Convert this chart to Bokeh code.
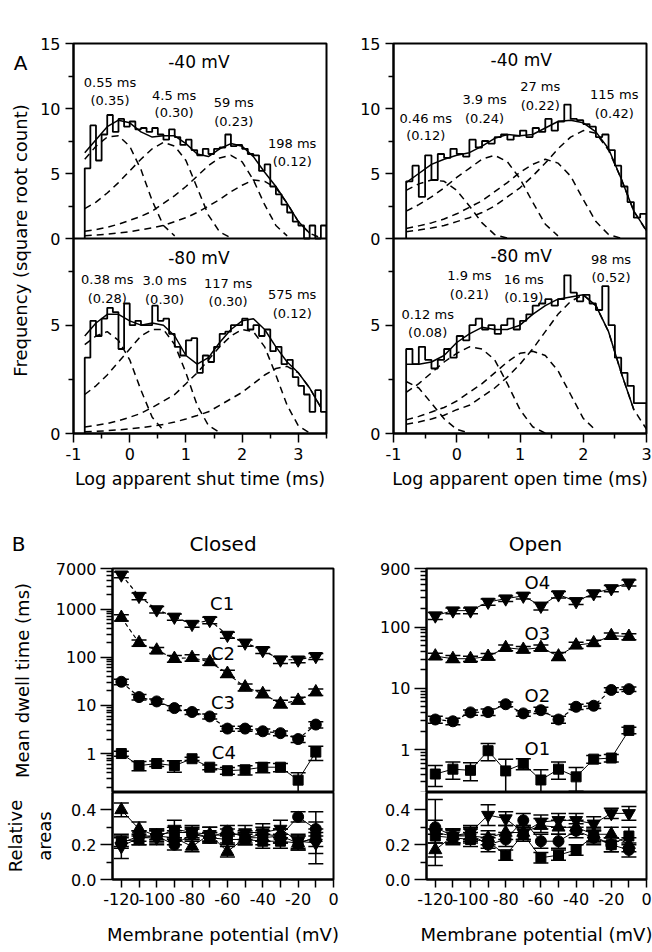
import math
from bokeh.plotting import figure
from bokeh.layouts import row, column
from bokeh.models import (Range1d, FixedTicker, NumeralTickFormatter, Label, Whisker,
                          TeeHead, ColumnDataSource, Span)
from bokeh.core.properties import value
from bokeh.embed import file_html
from bokeh.resources import INLINE

FONT = "DejaVu Sans"

# ---------------- Panel A data (square-root counts, log10 time bins) ----------------
BIN_W = 0.1
HIST_START = -0.8

shut40_hist = [5.4, 8.7, 6.0, 8.0, 9.5, 8.2, 9.2, 8.6, 9.0, 8.4,
               8.5, 8.2, 8.5, 8.0, 7.6, 8.4, 7.8, 7.2, 7.6, 6.8,
               6.4, 6.9, 6.5, 6.9, 7.0, 8.0, 7.1, 7.2, 6.9, 6.5,
               6.4, 5.2, 5.7, 4.0, 3.4, 2.6, 2.0, 1.3, 1.0, 0.0,
               1.0, 0.0, 1.0]
open40_hist = [4.4, 5.6, 3.2, 6.4, 4.5, 6.5, 6.2, 6.9, 6.5, 6.3,
               7.6, 7.0, 7.5, 7.3, 7.8, 8.0, 7.6, 7.9, 8.3, 7.8,
               8.5, 8.2, 9.2, 8.3, 9.0, 10.3, 9.2, 9.1, 8.8, 8.6,
               7.8, 8.0, 6.8, 5.6, 4.0, 2.8, 1.6, 1.9]
shut80_hist = [3.5, 5.2, 4.5, 5.3, 5.8, 5.6, 3.9, 6.0, 5.0, 5.2,
               5.0, 5.0, 5.9, 5.2, 5.3, 4.6, 4.0, 3.6, 4.3, 4.4,
               2.8, 3.6, 3.3, 4.0, 4.6, 4.7, 5.0, 5.0, 5.3, 4.8,
               5.0, 4.5, 4.8, 3.8, 4.0, 3.2, 3.4, 2.6, 2.2, 1.8,
               1.0, 2.0, 1.0]
open80_hist = [3.9, 3.2, 4.0, 3.4, 3.0, 3.4, 3.9, 3.5, 4.5, 4.3,
               5.0, 5.3, 4.8, 5.0, 4.6, 5.0, 5.3, 4.8, 5.2, 5.5,
               5.9, 6.0, 6.2, 5.9, 6.2, 7.3, 6.5, 6.1, 6.4, 6.0,
               5.7, 6.8, 5.0, 3.5, 2.8, 2.2, 1.4, 1.4]

grid_shut = [-0.8, -0.6, -0.4, -0.2, 0.0, 0.2, 0.4, 0.6, 0.8, 1.0, 1.2,
             1.4, 1.6, 1.8, 2.0, 2.2, 2.4, 2.6, 2.8, 3.0, 3.2, 3.4]
grid_open = [-0.8, -0.6, -0.4, -0.2, 0.0, 0.2, 0.4, 0.6, 0.8, 1.0,
             1.2, 1.4, 1.6, 1.8, 2.0, 2.2, 2.4, 2.6, 2.8, 3.0]
N = None

shut40_fit = [6.6, 7.6, 8.6, 9.1, 8.9, 8.2, 7.8, 7.9, 7.9, 7.3, 6.5, 6.3, 6.9, 7.3, 7.1, 6.3, 5.1, 4.0, 2.7, 1.3, 0.4, N]
shut40_c1 = [6.1, 7.1, 7.8, 7.9, 7.1, 5.3, 2.9, 1.0, 0.2, N, N, N, N, N, N, N, N, N, N, N, N, N]
shut40_c2 = [2.3, 2.8, 3.5, 4.3, 5.2, 6.1, 6.9, 7.4, 7.1, 6.0, 3.9, 1.8, 0.5, 0.05, N, N, N, N, N, N, N, N]
shut40_c3 = [0.55, 0.69, 0.87, 1.1, 1.4, 1.7, 2.1, 2.7, 3.3, 4.0, 4.8, 5.6, 6.2, 6.4, 5.9, 4.5, 2.6, 1.0, 0.2, N, N, N]
shut40_c4 = [0.21, 0.27, 0.33, 0.42, 0.53, 0.67, 0.83, 1.0, 1.3, 1.6, 2.0, 2.5, 3.0, 3.6, 4.1, 4.5, 4.4, 3.9, 2.7, 1.3, 0.4, 0.05]

open40_fit = [4.3, 5.0, 5.7, 6.1, 6.4, 6.6, 7.1, 7.7, 8.0, 7.9, 8.0, 8.5, 9.0, 9.1, 8.9, 8.2, 6.9, 4.6, 2.1, 0.6]
open40_c1 = [3.7, 4.2, 4.5, 4.4, 3.7, 2.5, 1.2, 0.3, 0.03, N, N, N, N, N, N, N, N, N, N, N]
open40_c2 = [2.1, 2.6, 3.2, 3.9, 4.7, 5.4, 6.1, 6.4, 5.9, 4.6, 2.8, 1.1, 0.2, N, N, N, N, N, N, N]
open40_c3 = [0.77, 0.97, 1.2, 1.5, 1.9, 2.4, 2.9, 3.6, 4.3, 5.1, 5.7, 6.1, 5.8, 4.8, 3.0, 1.3, 0.3, 0.02, N, N]
open40_c4 = [0.52, 0.65, 0.81, 1.0, 1.3, 1.6, 2.0, 2.5, 3.2, 3.9, 4.8, 5.8, 6.9, 7.8, 8.3, 8.1, 6.8, 4.6, 2.1, 0.56]

shut80_fit = [4.5, 5.1, 5.5, 5.5, 5.2, 5.0, 5.1, 5.0, 4.5, 3.6, 3.2, 3.5, 4.2, 4.8, 5.2, 5.3, 4.8, 4.0, 3.3, 2.8, 2.1, 1.2]
shut80_c1 = [4.1, 4.5, 4.7, 4.3, 3.4, 2.0, 0.75, 0.14, N, N, N, N, N, N, N, N, N, N, N, N, N, N]
shut80_c2 = [1.8, 2.2, 2.7, 3.3, 3.9, 4.5, 4.8, 4.8, 4.1, 2.8, 1.3, 0.37, 0.04, N, N, N, N, N, N, N, N, N]
shut80_c3 = [0.30, 0.38, 0.46, 0.59, 0.75, 0.93, 1.2, 1.5, 1.8, 2.3, 2.8, 3.4, 4.0, 4.5, 4.8, 4.7, 4.0, 2.7, 1.3, 0.35, 0.03, N]
shut80_c4 = [0.08, 0.10, 0.13, 0.17, 0.21, 0.27, 0.34, 0.42, 0.53, 0.67, 0.83, 1.0, 1.3, 1.6, 1.9, 2.3, 2.7, 3.0, 3.1, 2.8, 2.1, 1.2]

open80_fit = [3.2, 3.2, 3.3, 3.6, 4.2, 4.6, 4.9, 4.8, 4.8, 5.0, 5.5, 5.9, 6.2, 6.3, 6.4, 5.9, 4.7, 2.8, 1.1, N]
open80_c1 = [2.4, 2.1, 1.4, 0.68, 0.19, 0.02, N, N, N, N, N, N, N, N, N, N, N, N, N, N]
open80_c2 = [1.9, 2.3, 2.8, 3.3, 3.7, 4.0, 3.9, 3.4, 2.3, 1.1, 0.31, 0.02, N, N, N, N, N, N, N, N]
open80_c3 = [0.63, 0.79, 0.99, 1.2, 1.5, 1.9, 2.3, 2.8, 3.3, 3.7, 3.8, 3.6, 2.9, 1.8, 0.7, 0.14, N, N, N, N]
open80_c4 = [0.43, 0.53, 0.67, 0.84, 1.1, 1.3, 1.7, 2.1, 2.6, 3.2, 3.9, 4.7, 5.5, 6.1, 6.4, 5.9, 4.7, 2.8, 1.1, 0.2]

shut40_tau = ["0.55 ms", "4.5 ms", "59 ms", "198 ms"]
shut40_area = ["(0.35)", "(0.30)", "(0.23)", "(0.12)"]
open40_tau = ["0.46 ms", "3.9 ms", "27 ms", "115 ms"]
open40_area = ["(0.12)", "(0.24)", "(0.22)", "(0.42)"]
shut80_tau = ["0.38 ms", "3.0 ms", "117 ms", "575 ms"]
shut80_area = ["(0.28)", "(0.30)", "(0.30)", "(0.12)"]
open80_tau = ["0.12 ms", "1.9 ms", "16 ms", "98 ms"]
open80_area = ["(0.08)", "(0.21)", "(0.19)", "(0.52)"]

# ---------------- Panel B data ----------------
V = [-120, -110, -100, -90, -80, -70, -60, -50, -40, -30, -20, -10]

C1 = [5200, 1870, 980, 690, 490, 590, 290, 200, 140, 89, 89, 105]
C2 = [670, 200, 140, 94, 98, 80, 46, 24, 17.5, 10.8, 12.7, 19]
C3 = [31, 14.9, 12.1, 8.8, 7.3, 5.9, 3.3, 3.3, 2.9, 2.65, 2.0, 4.0]
C4 = [1.0, 0.56, 0.62, 0.56, 0.78, 0.52, 0.44, 0.46, 0.52, 0.52, 0.28, 1.07]
C1_err = [700, 300, 150, 100, 70, 90, 40, 30, 20, 15, 12, 15]
C2_err = [100, 30, 20, 15, 15, 12, 8, 4, 3, 2, 2, 3]
C3_err = [4, 2, 1.5, 1.0, 0.8, 0.7, 0.4, 0.4, 0.35, 0.3, 0.3, 0.6]
C4_err = [0.12, 0.12, 0.08, 0.15, 0.06, 0.06, 0.07, 0.1, 0.12, 0.1, 0.12, 0.35]

O4 = [153, 185, 185, 256, 290, 322, 220, 338, 262, 352, 425, 527]
O3 = [33.5, 30.4, 30.4, 33, 46, 43, 46, 33.5, 50.5, 55, 72, 70]
O2 = [3.1, 2.9, 4.05, 4.1, 5.5, 3.9, 4.4, 3.1, 5.0, 5.2, 9.4, 9.7]
O1 = [0.40, 0.48, 0.46, 0.96, 0.45, 0.59, 0.32, 0.48, 0.36, 0.70, 0.73, 2.06]
O4_err = [20, 20, 20, 30, 30, 35, 30, 40, 30, 40, 50, 60]
O3_err = [4, 4, 3, 4, 5, 5, 5, 5, 6, 6, 8, 8]
O2_err = [0.4, 0.35, 0.4, 0.5, 0.5, 0.4, 0.5, 0.4, 0.5, 0.5, 0.8, 0.8]
O1_err = [0.15, 0.15, 0.15, 0.3, 0.25, 0.12, 0.15, 0.15, 0.15, 0.1, 0.1, 0.25]

C1_area = [0.19, 0.24, 0.24, 0.29, 0.27, 0.26, 0.25, 0.27, 0.27, 0.29, 0.22, 0.21]
C2_area = [0.40, 0.29, 0.25, 0.24, 0.19, 0.26, 0.16, 0.24, 0.24, 0.25, 0.21, 0.24]
C3_area = [0.21, 0.25, 0.25, 0.20, 0.26, 0.24, 0.28, 0.24, 0.26, 0.25, 0.36, 0.29]
C4_area = [0.22, 0.23, 0.26, 0.27, 0.27, 0.24, 0.23, 0.23, 0.22, 0.22, 0.21, 0.24]
C1_area_err = [0.07, 0.04, 0.04, 0.05, 0.04, 0.04, 0.04, 0.04, 0.05, 0.05, 0.04, 0.06]
C2_area_err = [0.04, 0.04, 0.04, 0.04, 0.03, 0.04, 0.03, 0.04, 0.04, 0.04, 0.04, 0.05]
C3_area_err = [0.03, 0.03, 0.03, 0.03, 0.03, 0.03, 0.03, 0.03, 0.04, 0.04, 0.03, 0.04]
C4_area_err = [0.03, 0.03, 0.03, 0.03, 0.03, 0.03, 0.03, 0.03, 0.04, 0.04, 0.04, 0.15]

O4_area = [0.27, 0.25, 0.27, 0.37, 0.35, 0.27, 0.33, 0.34, 0.34, 0.32, 0.38, 0.38]
O3_area = [0.17, 0.25, 0.25, 0.24, 0.27, 0.27, 0.31, 0.30, 0.30, 0.26, 0.26, 0.20]
O2_area = [0.30, 0.25, 0.26, 0.20, 0.23, 0.34, 0.22, 0.22, 0.28, 0.24, 0.20, 0.17]
O1_area = [0.25, 0.24, 0.23, 0.22, 0.14, 0.26, 0.125, 0.14, 0.17, 0.25, 0.20, 0.25]
O4_area_err = [0.19, 0.04, 0.04, 0.06, 0.04, 0.04, 0.04, 0.04, 0.04, 0.04, 0.03, 0.04]
O3_area_err = [0.04, 0.04, 0.04, 0.04, 0.04, 0.04, 0.04, 0.04, 0.04, 0.04, 0.04, 0.04]
O2_area_err = [0.04, 0.04, 0.04, 0.04, 0.04, 0.04, 0.04, 0.04, 0.04, 0.04, 0.04, 0.04]
O1_area_err = [0.04, 0.04, 0.04, 0.04, 0.03, 0.04, 0.03, 0.03, 0.03, 0.04, 0.04, 0.05]


# ---------------- helpers ----------------
def style_axis(ax, major_out, minor_out, size="16px", standoff=5):
    ax.axis_line_width = 2
    ax.axis_line_color = "black"
    ax.major_tick_line_width = 1.5
    ax.minor_tick_line_width = 1.5
    ax.major_tick_line_color = "black"
    ax.minor_tick_line_color = "black"
    ax.major_tick_in = 0
    ax.minor_tick_in = 0
    ax.major_tick_out = major_out
    ax.minor_tick_out = minor_out
    ax.major_label_text_font = FONT
    ax.major_label_text_font_size = size
    ax.major_label_text_color = "black"
    ax.major_label_standoff = standoff
    ax.axis_label_text_font = FONT
    ax.axis_label_text_font_style = "normal"
    ax.axis_label_text_color = "black"


def base_fig(w, h, xr, yr, left, right, top, bottom, y_log=False, x_axis=True, y_axis=True):
    p = figure(width=w, height=h, x_range=xr, y_range=yr,
               y_axis_type="log" if y_log else "linear",
               x_axis_location="below" if x_axis else None,
               y_axis_location="left" if y_axis else None,
               toolbar_location=None, output_backend="svg", title=None,
               min_border_left=left, min_border_right=right,
               min_border_top=top, min_border_bottom=bottom)
    p.grid.visible = False
    p.outline_line_color = "black"
    p.outline_line_width = 2
    p.background_fill_color = "white"
    p.border_fill_color = "white"
    return p


def hist_step(p, vals, yr="default"):
    edges = [round(HIST_START + i * BIN_W, 2) for i in range(len(vals) + 1)]
    xs = [edges[0]] + edges
    ys = [0] + list(vals) + [0]
    p.step(xs, ys, mode="after", line_color="black", line_width=1.8, y_range_name=yr)


def curve(p, xs, ys, dash=None, yr="default"):
    pts = [(x, y) for x, y in zip(xs, ys) if y is not None]
    kw = dict(line_color="black", line_width=1.5, y_range_name=yr)
    if dash:
        kw["line_dash"] = dash
    p.line([a for a, _ in pts], [b for _, b in pts], **kw)


def texts(p, xs, ys, labels, size, yr="default"):
    p.text(x=xs, y=ys, text=labels, text_font=value(FONT), text_font_size=value(size),
           text_align="center", text_baseline="middle", text_color="black", y_range_name=yr)


def histo_panel(p, hist, grid, fit, comps, yr, mv, mv_xy, tau, area, tau_x, tau_y, area_y):
    for c in comps:
        curve(p, grid, c, dash="7 5", yr=yr)
    hist_step(p, hist, yr=yr)
    curve(p, grid, fit, yr=yr)
    texts(p, [mv_xy[0]], [mv_xy[1]], [mv], "17px", yr=yr)
    texts(p, tau_x, tau_y, tau, "13px", yr=yr)
    texts(p, tau_x, area_y, area, "13px", yr=yr)


def panelA(width, left, right, xmax, minor_x, xlabel):
    p = base_fig(width, 495, Range1d(-1, xmax), Range1d(0, 18), left, right, 43, 62)
    p.extra_y_ranges = {"top": Range1d(-15, 15)}
    yax = p.yaxis[0]
    yax.ticker = FixedTicker(ticks=[0, 5, 9, 12, 15, 18], minor_ticks=[2.5, 7.5, 10.5, 13.5, 16.5])
    yax.formatter = NumeralTickFormatter(format="0")
    yax.major_label_overrides = {9: "0", 12: "5", 15: "10", 18: "15"}
    style_axis(yax, 8, 5, "16px", 5)
    xax = p.xaxis[0]
    xax.ticker = FixedTicker(ticks=[-1, 0, 1, 2, 3], minor_ticks=minor_x)
    xax.formatter = NumeralTickFormatter(format="0")
    style_axis(xax, 9, 5, "16px", 5)
    xax.axis_label = xlabel
    xax.axis_label_text_font_size = "17.5px"
    xax.axis_label_standoff = 6
    p.add_layout(Span(location=9, dimension="width", line_color="black", line_width=2))
    return p


# ---------------- Panel A ----------------
strip = base_fig(33, 495, Range1d(0, 33), Range1d(0, 495), 0, 0, 0, 0, x_axis=False, y_axis=False)
strip.outline_line_color = None
strip.add_layout(Label(x=20, y=470, text="A", text_font=FONT, text_font_size="20px",
                       text_align="center", text_baseline="middle", text_color="black"))
strip.add_layout(Label(x=20, y=245, text="Frequency (square root count)", angle=math.pi / 2,
                       text_font=FONT, text_font_size="18px", text_align="center",
                       text_baseline="middle", text_color="black"))

pa_left = panelA(303, 40, 10, 3.5, [-0.5, 0.5, 1.5, 2.5, 3.5], "Log apparent shut time (ms)")
histo_panel(pa_left, shut40_hist, grid_shut, shut40_fit,
            [shut40_c1, shut40_c2, shut40_c3, shut40_c4], "top", "-40 mV", (1.23, 13.6),
            shut40_tau, shut40_area, [-0.35, 0.79, 1.85, 2.89], [12.0, 11.0, 10.5, 7.3],
            [10.6, 9.7, 9.0, 5.9])
histo_panel(pa_left, shut80_hist, grid_shut, shut80_fit,
            [shut80_c1, shut80_c2, shut80_c3, shut80_c4], "default", "-80 mV", (1.23, 8.1),
            shut80_tau, shut80_area, [-0.40, 0.62, 1.75, 2.89], [7.1, 7.05, 6.94, 6.4],
            [6.25, 6.2, 6.1, 5.55])

pa_right = panelA(316, 57, 6, 3.0, [-0.5, 0.5, 1.5, 2.5], "Log apparent open time (ms)")
histo_panel(pa_right, open40_hist, grid_open, open40_fit,
            [open40_c1, open40_c2, open40_c3, open40_c4], "top", "-40 mV", (1.02, 13.7),
            open40_tau, open40_area, [-0.49, 0.44, 1.32, 2.49], [9.25, 10.7, 11.7, 11.1],
            [7.9, 9.25, 10.25, 9.6])
histo_panel(pa_right, open80_hist, grid_open, open80_fit,
            [open80_c1, open80_c2, open80_c3, open80_c4], "default", "-80 mV", (1.02, 8.2),
            open80_tau, open80_area, [-0.46, 0.20, 1.06, 2.44], [5.5, 7.28, 7.12, 8.05],
            [4.64, 6.42, 6.27, 7.2])

# ---------------- Panel B header ----------------
HEADER_H = 63
header = base_fig(652, HEADER_H, Range1d(0, 652), Range1d(0, HEADER_H), 0, 0, 0, 0,
                  x_axis=False, y_axis=False)
header.outline_line_color = None
for txt, x, y in [("B", 18, 14.5), ("Closed", 222.5, 14.5), ("Open", 535, 14.5)]:
    header.add_layout(Label(x=x, y=y, text=txt, text_font=FONT, text_font_size="20px",
                            text_align="center", text_baseline="middle", text_color="black"))


def series(p, ys, errs, marker, size, dash=None, lw=1.0):
    lo = [y - e for y, e in zip(ys, errs)]
    hi = [y + e for y, e in zip(ys, errs)]
    src = ColumnDataSource(dict(x=V, y=ys, lo=lo, hi=hi))
    kw = dict(line_color="black", line_width=lw)
    if dash:
        kw["line_dash"] = dash
    p.line("x", "y", source=src, **kw)
    p.add_layout(Whisker(source=src, base="x", upper="hi", lower="lo", dimension="height",
                         line_color="black", line_width=1.5, level="underlay",
                         upper_head=TeeHead(size=15, line_width=1.5, line_color="black"),
                         lower_head=TeeHead(size=15, line_width=1.5, line_color="black")))
    p.scatter("x", "y", source=src, marker=marker, size=size, fill_color="black", line_color="black")


def dwell_fig(width, left, right, ymin, ymax, ticks, minor):
    p = base_fig(width, 234, Range1d(-125, 0), Range1d(ymin, ymax), left, right, 10, 0,
                 y_log=True, x_axis=False)
    yax = p.yaxis[0]
    yax.ticker = FixedTicker(ticks=ticks, minor_ticks=minor)
    yax.formatter = NumeralTickFormatter(format="0")
    style_axis(yax, 12, 6, "16px", 4)
    return p


def area_fig(width, left, right):
    p = base_fig(width, 160, Range1d(-125, 0), Range1d(0, 0.5), left, right, 0, 73)
    yax = p.yaxis[0]
    yax.ticker = FixedTicker(ticks=[0, 0.2, 0.4], minor_ticks=[0.1, 0.3])
    yax.formatter = NumeralTickFormatter(format="0.0")
    style_axis(yax, 12, 6, "16px", 4)
    xax = p.xaxis[0]
    xax.ticker = FixedTicker(ticks=[-120, -100, -80, -60, -40, -20, 0],
                             minor_ticks=[-110, -90, -70, -50, -30, -10])
    xax.formatter = NumeralTickFormatter(format="0")
    style_axis(xax, 8, 8, "16px", 5)
    xax.axis_label = "Membrane potential (mV)"
    xax.axis_label_text_font_size = "18px"
    xax.axis_label_standoff = 16
    return p


minor_closed = [m * 10.0 ** k for k in range(-1, 4) for m in range(2, 10) if 0.155 < m * 10.0 ** k < 7000]
minor_open = [m * 10.0 ** k for k in range(-1, 3) for m in range(2, 10) if 0.2 <= m * 10.0 ** k < 900]

cd = dwell_fig(340, 112, 7, 0.155, 7000, [1, 10, 100, 1000, 7000], minor_closed)
cd.yaxis[0].axis_label = "Mean dwell time (ms)"
cd.yaxis[0].axis_label_text_font_size = "18px"
cd.yaxis[0].axis_label_standoff = 20
series(cd, C1, C1_err, "inverted_triangle", 13, dash="4 3", lw=1.2)
series(cd, C2, C2_err, "triangle", 13, dash="4 3", lw=1.2)
series(cd, C3, C3_err, "circle", 11, dash="4 3", lw=1.2)
series(cd, C4, C4_err, "square", 10)
texts(cd, [-63, -62.5, -62.5, -62], [1320, 118, 11.7, 1.06], ["C1", "C2", "C3", "C4"], "18px")

od = dwell_fig(312, 86, 6, 0.2, 900, [1, 10, 100, 900], minor_open)
series(od, O4, O4_err, "inverted_triangle", 13)
series(od, O3, O3_err, "triangle", 13)
series(od, O2, O2_err, "circle", 11, dash="4 3", lw=1.2)
series(od, O1, O1_err, "square", 10)
texts(od, [-62, -62, -62, -62], [535, 77, 7.6, 1.03], ["O4", "O3", "O2", "O1"], "18px")

ca = area_fig(340, 112, 7)
ca.yaxis[0].axis_label = "Relative\nareas"
ca.yaxis[0].axis_label_text_font_size = "18px"
ca.yaxis[0].axis_label_text_line_height = 1.4
ca.yaxis[0].axis_label_standoff = 13
series(ca, C4_area, C4_area_err, "square", 10)
series(ca, C3_area, C3_area_err, "circle", 11)
series(ca, C1_area, C1_area_err, "inverted_triangle", 13)
series(ca, C2_area, C2_area_err, "triangle", 13)

oa = area_fig(312, 86, 6)
series(oa, O1_area, O1_area_err, "square", 10)
series(oa, O2_area, O2_area_err, "circle", 11)
series(oa, O4_area, O4_area_err, "inverted_triangle", 13)
series(oa, O3_area, O3_area_err, "triangle", 13)

layout = column(
    row(strip, pa_left, pa_right),
    header,
    row(column(cd, ca), column(od, oa)),
)

open("out.html", "w").write(file_html(layout, INLINE))
